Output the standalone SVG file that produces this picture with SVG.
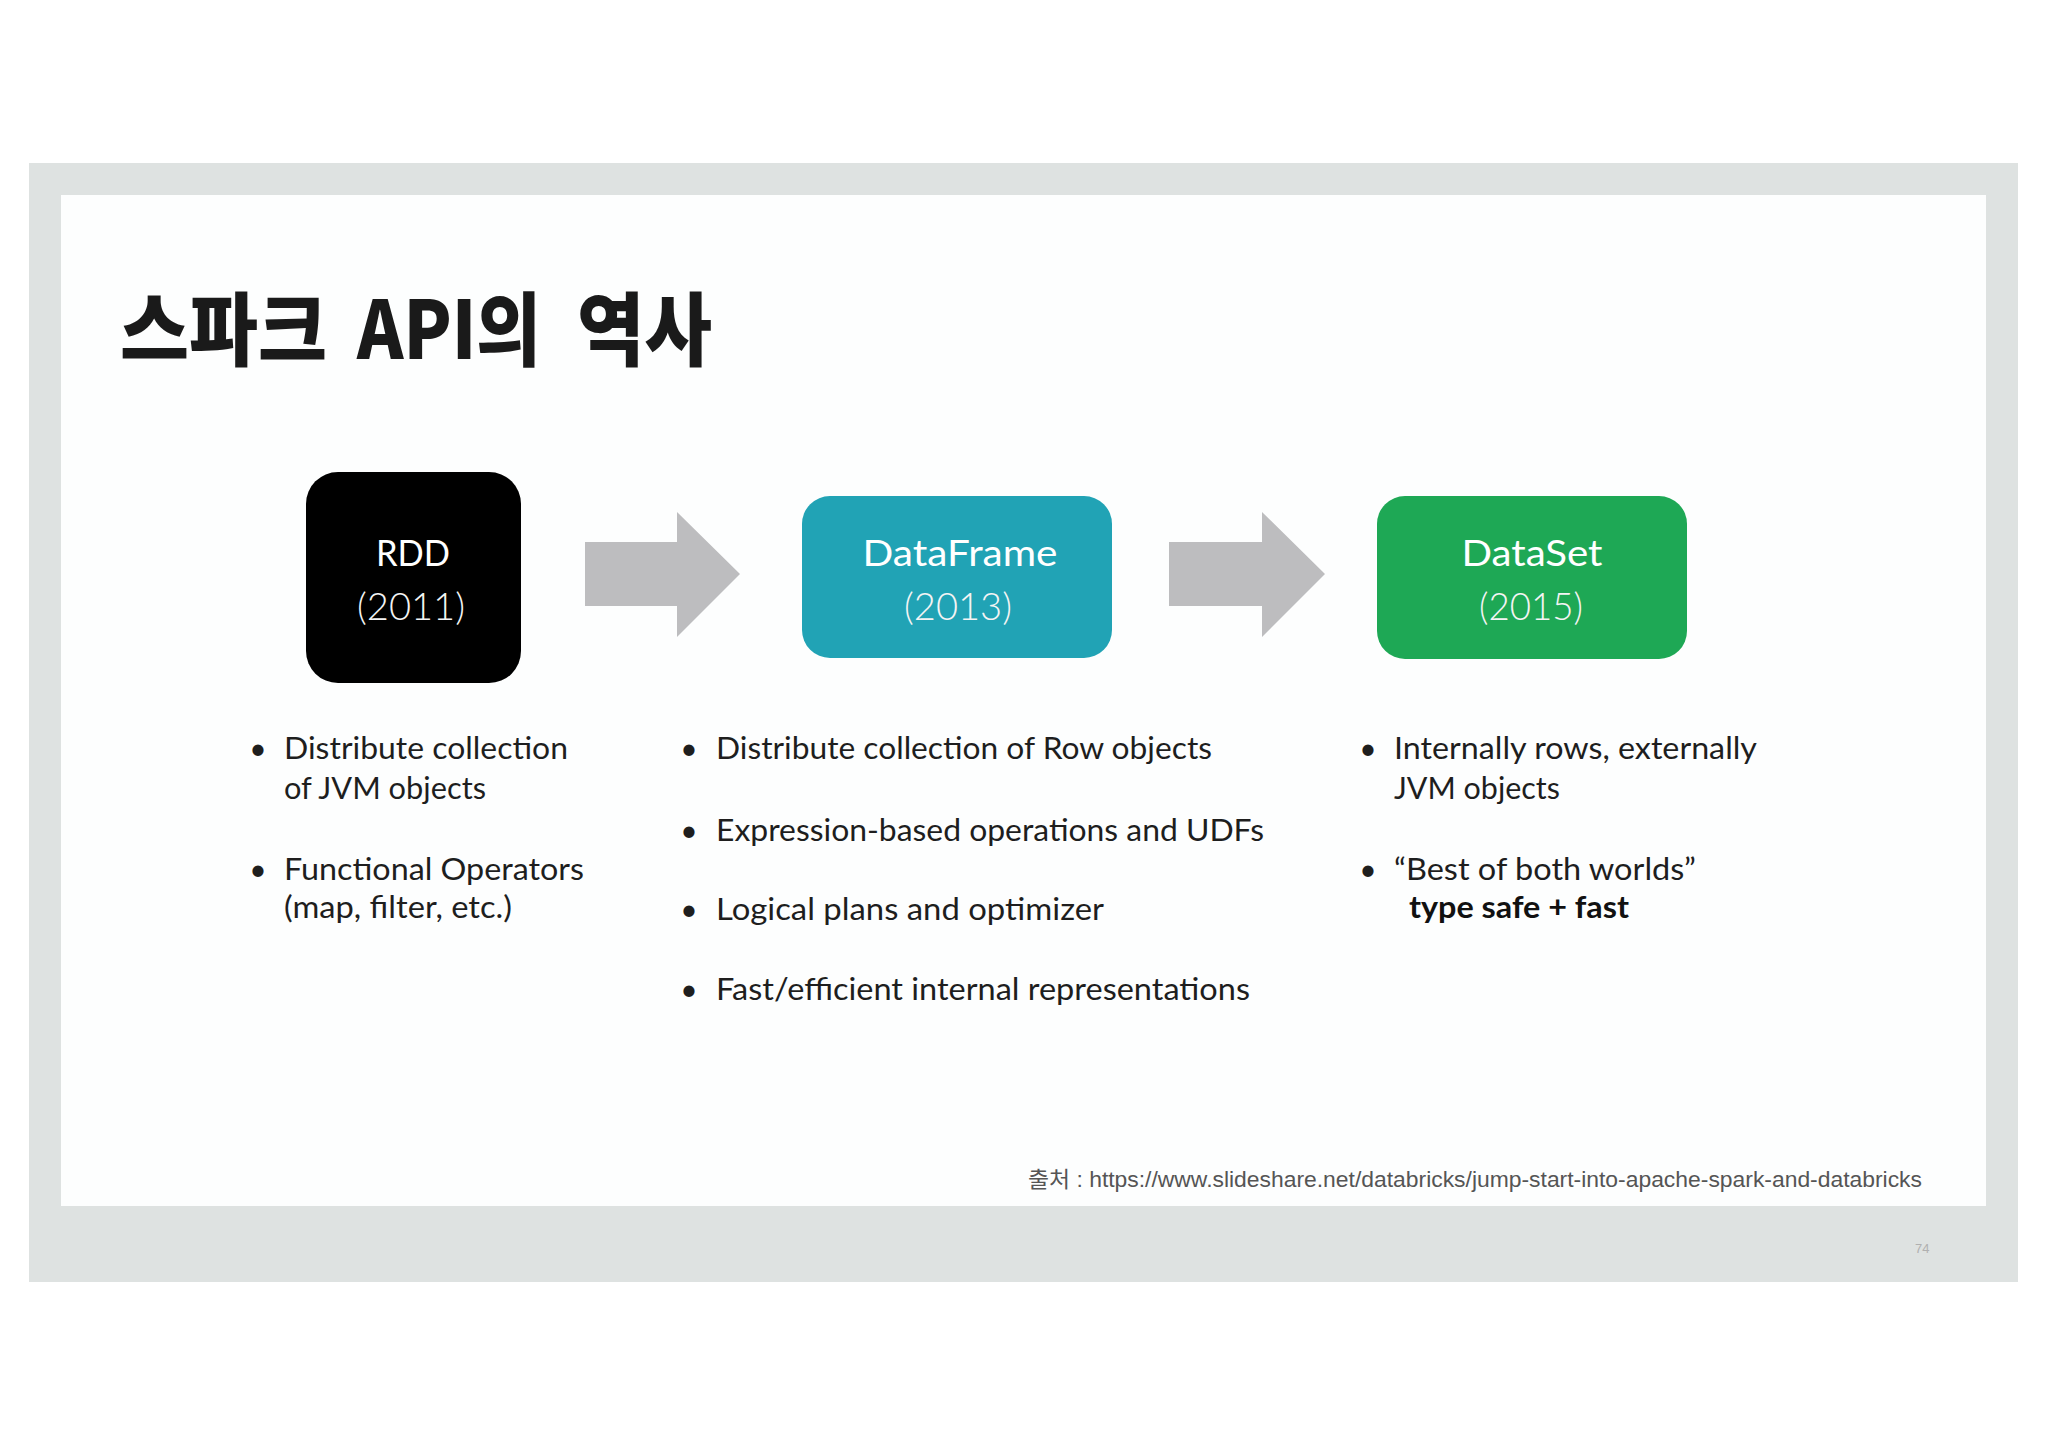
<svg xmlns="http://www.w3.org/2000/svg" width="2048" height="1447" viewBox="0 0 2048 1447">
<style>
.title{font-family:"Noto Sans CJK KR",sans-serif;font-weight:900;font-size:80px;fill:#1a1a1a}
.bt{font-family:Lato,"Liberation Sans",sans-serif;font-size:37px;fill:#ffffff;text-anchor:middle}
.yr{font-family:Lato,"Liberation Sans",sans-serif;font-weight:300;font-size:38px;fill:#f4f4f4;text-anchor:middle}
.li{font-family:Lato,"Liberation Sans",sans-serif;font-size:30px;fill:#1e1e1e}
.dot{font-family:Lato,"Liberation Sans",sans-serif;font-size:30px;fill:#1e1e1e;text-anchor:middle}
.lb{font-family:Lato,"Liberation Sans",sans-serif;font-weight:700;font-size:30px;fill:#111}
.src{font-family:"Liberation Sans","Noto Sans CJK KR",sans-serif;font-size:22px;fill:#555}
.pg{font-family:"Liberation Sans",sans-serif;font-size:13px;fill:#b0b0b0}
.arr{fill:#bdbdbf}
</style>
<rect width="2048" height="1447" fill="#ffffff"/>
<rect x="29" y="163" width="1989" height="1119" fill="#dee2e1"/>
<rect x="61" y="195" width="1925" height="1011" fill="#fdfefe"/>

<g id="title">
<text class="title" x="120" y="359" textLength="207" lengthAdjust="spacingAndGlyphs">스파크</text>
<text class="title" x="357" y="359" textLength="184" lengthAdjust="spacingAndGlyphs">API의</text>
<text class="title" x="577" y="359" textLength="135" lengthAdjust="spacingAndGlyphs">역사</text>
</g>

<g id="connectors">
<polygon class="arr" points="585,542 677,542 677,512 740,574 677,637 677,606 585,606"/>
<polygon class="arr" points="1169,542 1262,542 1262,512 1325,574 1262,637 1262,606 1169,606"/>
</g>

<g id="rdd">
<rect x="306" y="472" width="215" height="211" rx="32" fill="#000000"/>
<text class="bt" x="413" y="566" textLength="74" lengthAdjust="spacingAndGlyphs">RDD</text>
<text class="yr" x="411" y="620" textLength="108" lengthAdjust="spacingAndGlyphs">(2011)</text>
</g>

<g id="dataframe">
<rect x="802" y="496" width="310" height="162" rx="28" fill="#21a3b5"/>
<text class="bt" x="960" y="566" textLength="195" lengthAdjust="spacingAndGlyphs">DataFrame</text>
<text class="yr" x="958" y="620" textLength="108" lengthAdjust="spacingAndGlyphs">(2013)</text>
</g>

<g id="dataset">
<rect x="1377" y="496" width="310" height="163" rx="28" fill="#1ea855"/>
<text class="bt" x="1532" y="566" textLength="141" lengthAdjust="spacingAndGlyphs">DataSet</text>
<text class="yr" x="1531" y="620" textLength="104" lengthAdjust="spacingAndGlyphs">(2015)</text>
</g>

<g id="rdd-notes">
<text class="dot" x="258" y="759">•</text>
<text class="li" x="284" y="759" textLength="284" lengthAdjust="spacingAndGlyphs">Distribute collection</text>
<text class="li" x="284" y="799" textLength="202" lengthAdjust="spacingAndGlyphs">of JVM objects</text>
<text class="dot" x="258" y="880">•</text>
<text class="li" x="284" y="880" textLength="300" lengthAdjust="spacingAndGlyphs">Functional Operators</text>
<text class="li" x="284" y="918" textLength="228" lengthAdjust="spacingAndGlyphs">(map, filter, etc.)</text>
</g>

<g id="dataframe-notes">
<text class="dot" x="689" y="759">•</text>
<text class="li" x="716" y="759" textLength="496" lengthAdjust="spacingAndGlyphs">Distribute collection of Row objects</text>
<text class="dot" x="689" y="841">•</text>
<text class="li" x="716" y="841" textLength="548" lengthAdjust="spacingAndGlyphs">Expression-based operations and UDFs</text>
<text class="dot" x="689" y="920">•</text>
<text class="li" x="716" y="920" textLength="388" lengthAdjust="spacingAndGlyphs">Logical plans and optimizer</text>
<text class="dot" x="689" y="1000">•</text>
<text class="li" x="716" y="1000" textLength="534" lengthAdjust="spacingAndGlyphs">Fast/efficient internal representations</text>
</g>

<g id="dataset-notes">
<text class="dot" x="1368" y="759">•</text>
<text class="li" x="1394" y="759" textLength="363" lengthAdjust="spacingAndGlyphs">Internally rows, externally</text>
<text class="li" x="1394" y="799" textLength="166" lengthAdjust="spacingAndGlyphs">JVM objects</text>
<text class="dot" x="1368" y="880">•</text>
<text class="li" x="1394" y="880" textLength="302" lengthAdjust="spacingAndGlyphs">“Best of both worlds”</text>
<text class="lb" x="1409" y="918" textLength="220" lengthAdjust="spacingAndGlyphs">type safe + fast</text>
</g>

<g id="footer">
<text class="src" x="1028" y="1187" textLength="894" lengthAdjust="spacingAndGlyphs">출처 : https://www.slideshare.net/databricks/jump-start-into-apache-spark-and-databricks</text>
<text class="pg" x="1915" y="1253">74</text>
</g>
</svg>
